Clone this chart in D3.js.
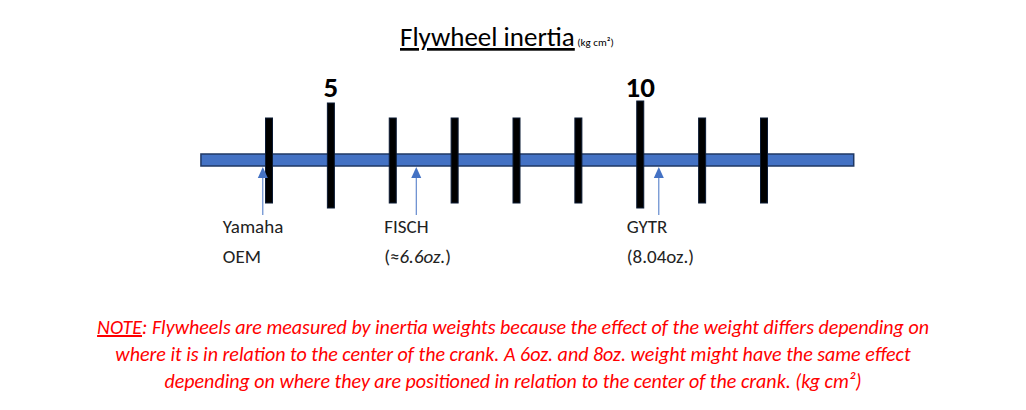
<!DOCTYPE html><html><head><meta charset="utf-8"><script src="https://cdn.jsdelivr.net/npm/d3@7"></script>
<style>body{margin:0;background:#fff}</style></head><body><svg id="c" width="1026" height="410"></svg>
<script>
const tickValues=[4,5,6,7,8,9,10,11,12];
const majorTicks=[5,10];
const barExtent=[2.9,13.45];
const markers=[{v:3.9,l1:"Yamaha",l2:"OEM",it:false},{v:6.38,l1:"FISCH",l2:"(≈6.6oz.)",it:true},{v:10.3,l1:"GYTR",l2:"(8.04oz.)",it:false}];
const labelDx=[-40,-32,-32];
const svg=d3.select("#c");
const F="Calibri, Carlito, 'Open Sans', sans-serif";
const x=d3.scaleLinear().domain([4,12]).range([269,764]);
const t=svg.append("text").attr("x",400).attr("y",46).attr("font-family",F).attr("font-size",27);
t.append("tspan").text("Flywheel inertia").attr("text-decoration","underline");
t.append("tspan").text(" (kg cm²)").attr("font-size",11);
svg.append("rect").attr("x",x(barExtent[0])).attr("y",154).attr("width",x(barExtent[1])-x(barExtent[0])).attr("height",12)
 .attr("fill","#4472c4").attr("stroke","#1f3864").attr("stroke-width",1.5);
svg.selectAll("rect.t").data(tickValues).join("rect").attr("class","t")
 .attr("x",d=>x(d)-3.5).attr("width",7)
 .attr("y",d=>majorTicks.includes(d)?(d===10?101:103):118)
 .attr("height",d=>majorTicks.includes(d)?(d===10?107:105):85)
 .attr("fill","#000").attr("stroke","#0b1a33").attr("stroke-width",1);
svg.selectAll("text.m").data(majorTicks).join("text").attr("class","m")
 .attr("x",d=>x(d)).attr("y",97).attr("text-anchor","middle").attr("font-family",F)
 .attr("font-weight","bold").attr("font-size",29).text(d=>d);
const g=svg.selectAll("g.a").data(markers).join("g").attr("class","a");
g.append("line").attr("x1",d=>x(d.v)).attr("x2",d=>x(d.v)).attr("y1",176).attr("y2",215).attr("stroke","#4472c4").attr("stroke-width",1);
g.append("path").attr("d",d=>`M${x(d.v)},167 l-5,11 h10 z`).attr("fill","#4472c4");
g.append("text").attr("x",(d,i)=>x(d.v)+labelDx[i]).attr("y",233).attr("font-family",F).attr("font-size",19).attr("fill","#222").text(d=>d.l1);
g.append("text").attr("x",(d,i)=>x(d.v)+labelDx[i]).attr("y",263).attr("font-family",F).attr("font-size",19).attr("fill","#222")
 .each(function(d){const s=d3.select(this);if(d.it){s.append("tspan").text("(≈");s.append("tspan").attr("font-style","italic").text("6.6oz.");s.append("tspan").text(")");}else s.text(d.l2);});
const noteLines=["where it is in relation to the center of the crank. A 6oz. and 8oz. weight might have the same effect","depending on where they are positioned in relation to the center of the crank. (kg cm²)"];
const nattr=s=>s.attr("x",513).attr("text-anchor","middle").attr("font-family",F).attr("font-size",20).attr("font-style","italic").attr("fill","#ff0000");
const n1=nattr(svg.append("text")).attr("y",334);
n1.append("tspan").attr("text-decoration","underline").text("NOTE");
n1.append("tspan").text(": Flywheels are measured by inertia weights because the effect of the weight differs depending on");
noteLines.forEach((l,i)=>nattr(svg.append("text")).attr("y",361+i*27).text(l));
</script></body></html>
